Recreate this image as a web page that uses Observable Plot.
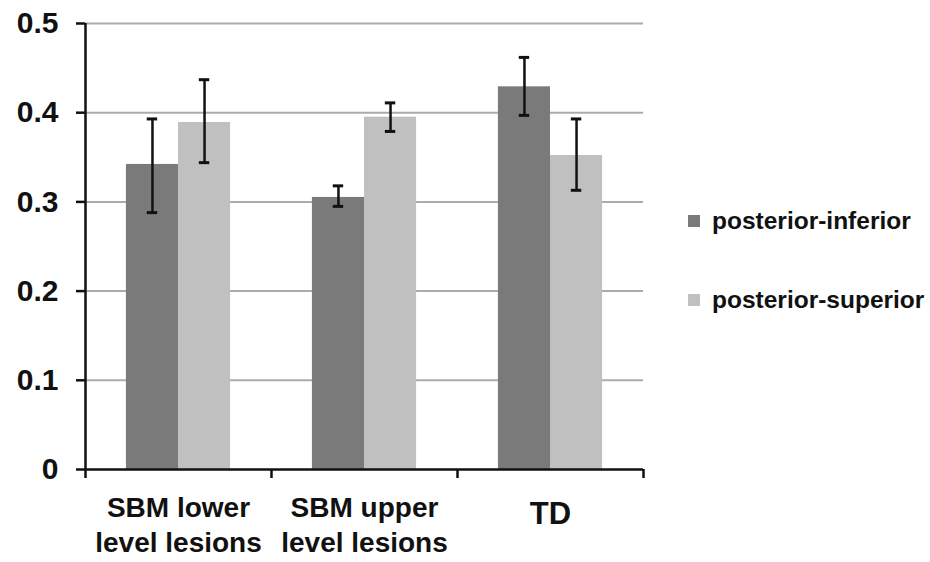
<!DOCTYPE html>
<html>
<head>
<meta charset="utf-8">
<script src="https://cdn.jsdelivr.net/npm/d3@7"></script>
<script src="https://cdn.jsdelivr.net/npm/@observablehq/plot@0.6"></script>
<style>
  html, body { margin: 0; padding: 0; background: #fff; }
  #wrap { position: relative; width: 930px; height: 562px; font-family: "Liberation Sans", Arial, sans-serif; font-weight: bold; }
  #legend { position: absolute; left: 688px; top: 206px; }
  .row { display: flex; align-items: center; height: 30px; }
  .row + .row { margin-top: 49px; }
  .sw { width: 12px; height: 12px; margin-right: 12px; }
  .lab { font-size: 24.5px; color: #111; white-space: nowrap; }
</style>
</head>
<body>
<div id="wrap"><div id="legend"></div></div>
<script>
// ---- data ----
const categories = ["SBM lower\nlevel lesions", "SBM upper\nlevel lesions", "TD"];
const series = ["posterior-inferior", "posterior-superior"];
const inferiorMean = [0.342, 0.305, 0.429];
const inferiorLow  = [0.288, 0.295, 0.397];
const inferiorHigh = [0.393, 0.318, 0.462];
const superiorMean = [0.389, 0.395, 0.352];
const superiorLow  = [0.344, 0.379, 0.313];
const superiorHigh = [0.437, 0.411, 0.393];
const yTicks = [0, 0.1, 0.2, 0.3, 0.4, 0.5];
const colors = ["#7a7a7a", "#c0c0c0"];

// ---- table ----
const barW = 0.28;   // bar width in group units
const capW = 0.028;  // half-width of error caps in group units
const means = [inferiorMean, superiorMean];
const lows = [inferiorLow, superiorLow];
const highs = [inferiorHigh, superiorHigh];
const rows = [];
categories.forEach((c, i) => {
  series.forEach((s, k) => {
    const x1 = i + 0.5 + (k - 1) * barW;
    rows.push({cat: c, series: s, x1, x2: x1 + barW, xc: x1 + barW / 2,
               mean: means[k][i], low: lows[k][i], high: highs[k][i]});
  });
});
const labels = categories.map((c, i) => ({label: c, x: i + 0.5}));

const plot = Plot.plot({
  width: 930,
  height: 562,
  marginLeft: 85,
  marginRight: 287,
  marginTop: 23,
  marginBottom: 93,
  style: {fontFamily: "'Liberation Sans', Arial, sans-serif", fontWeight: "bold", color: "#111", background: "#fff", overflow: "visible"},
  x: {domain: [0, categories.length]},
  y: {domain: [0, 0.5]},
  color: {domain: series, range: colors},
  marks: [
    Plot.gridY(yTicks.filter(d => d > 0), {stroke: "#ababab", strokeOpacity: 1, strokeWidth: 2}),
    Plot.rectY(rows, {x1: "x1", x2: "x2", y: "mean", fill: "series"}),
    Plot.ruleX(rows, {x: "xc", y1: "low", y2: "high", stroke: "#111", strokeWidth: 2.5}),
    Plot.ruleY(rows, {x1: d => d.xc - capW, x2: d => d.xc + capW, y: "high", stroke: "#111", strokeWidth: 3}),
    Plot.ruleY(rows, {x1: d => d.xc - capW, x2: d => d.xc + capW, y: "low", stroke: "#111", strokeWidth: 3}),
    Plot.ruleX([0], {y1: 0, y2: 0.5, stroke: "#111", strokeWidth: 2.5}),
    Plot.ruleY([0], {stroke: "#111", strokeWidth: 2.5}),
    Plot.axisY({ticks: yTicks, tickFormat: d => d === 0 ? "0" : d3.format(".1f")(d), tickSize: 9, tickPadding: 18,
                fontSize: 30, stroke: "#111", strokeWidth: 2.5, label: null}),
    Plot.axisX({ticks: d3.range(categories.length + 1), tickFormat: () => "", tickSize: 9,
                stroke: "#111", strokeWidth: 2.5, label: null}),
    Plot.text(labels.filter(d => d.label.includes("\n")), {x: "x", y: 0, text: "label", dy: 23, lineAnchor: "top",
                lineHeight: 1.25, fontSize: 28, fill: "#111", textAnchor: "middle"}),
    Plot.text(labels.filter(d => !d.label.includes("\n")), {x: "x", y: 0, text: "label", dy: 32, lineAnchor: "top",
                fontSize: 31, fill: "#111", textAnchor: "middle"})
  ]
});
document.getElementById("wrap").prepend(plot);

const legend = document.getElementById("legend");
series.forEach((s, k) => {
  const row = document.createElement("div");
  row.className = "row";
  const sw = document.createElement("div");
  sw.className = "sw";
  sw.style.background = colors[k];
  const lab = document.createElement("span");
  lab.className = "lab";
  lab.textContent = s;
  row.append(sw, lab);
  legend.append(row);
});
</script>
</body>
</html>
